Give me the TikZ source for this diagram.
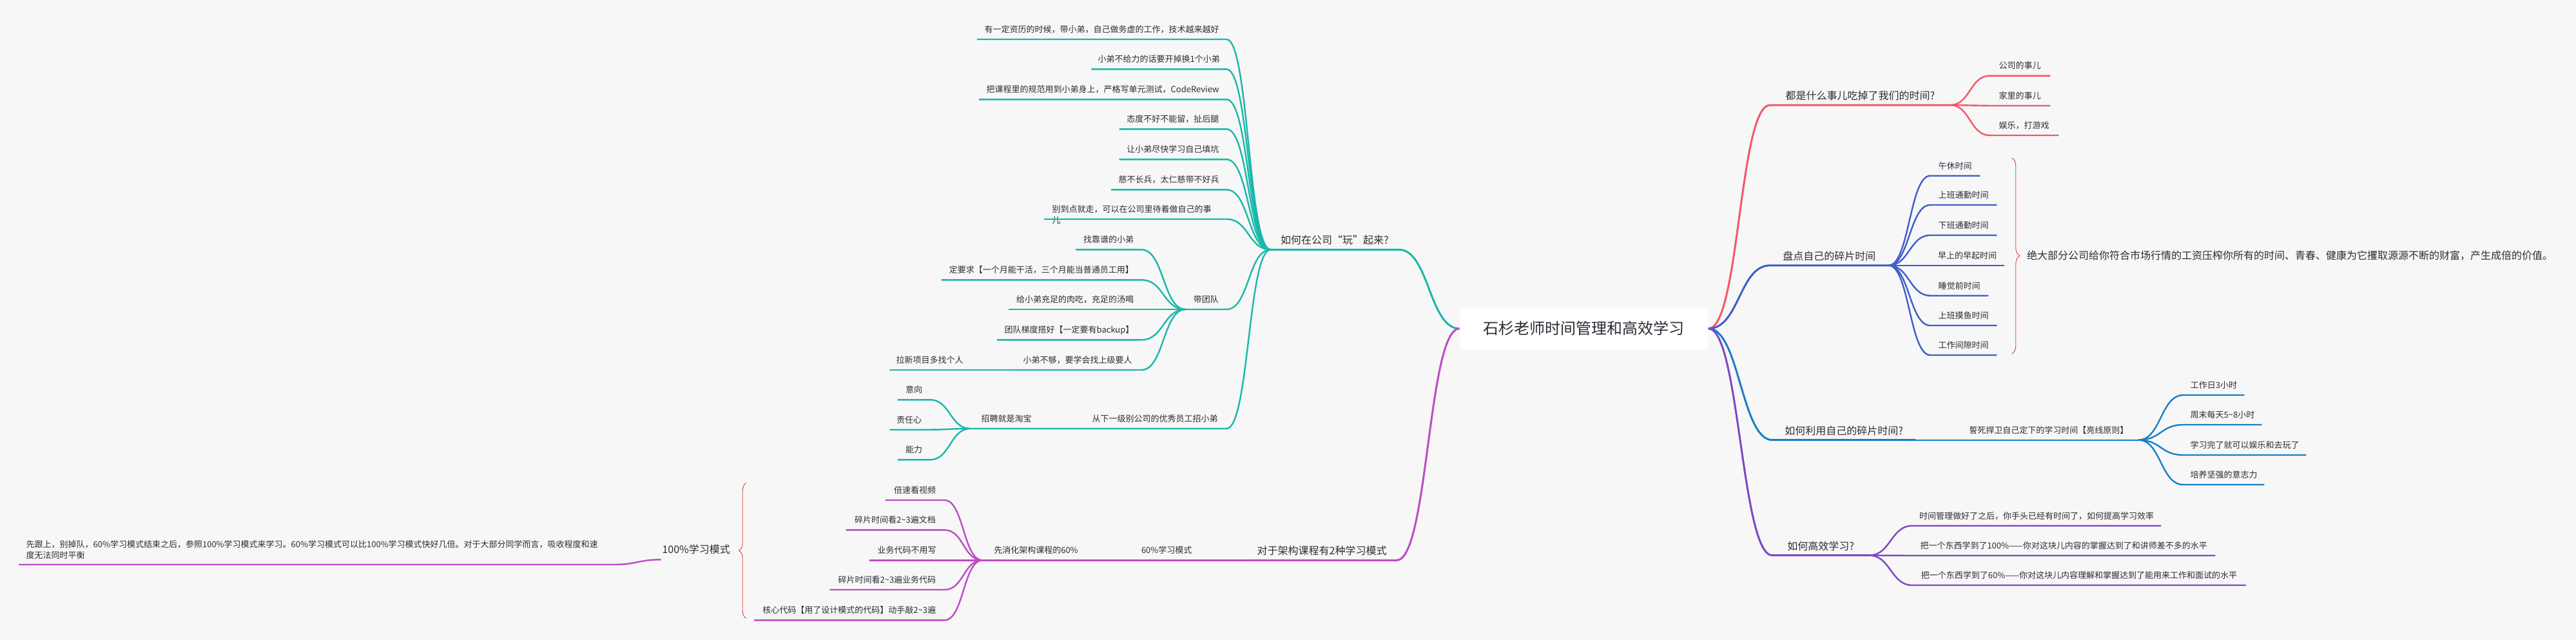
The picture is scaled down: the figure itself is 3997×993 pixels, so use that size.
\documentclass[tikz,border=0pt]{standalone}
\usepackage{fontspec}
\setmainfont{Noto Sans CJK SC}
\usetikzlibrary{decorations.pathreplacing}

\definecolor{bg}{RGB}{247,247,247}
\definecolor{ink}{RGB}{44,44,52}
\definecolor{cteal}{RGB}{26,184,171}
\definecolor{cmag}{RGB}{188,76,198}
\definecolor{cred}{RGB}{245,87,104}
\definecolor{croyal}{RGB}{62,94,200}
\definecolor{cblue}{RGB}{24,128,198}
\definecolor{cpurp}{RGB}{124,72,196}
\definecolor{cbrace}{RGB}{222,58,58}

\newcommand\fsml{\fontsize{13}{17.5}\selectfont}
\newcommand\fmid{\fontsize{16}{20}\selectfont}
\newcommand\fbig{\fontsize{24}{28}\selectfont}

\begin{document}
\begin{tikzpicture}[x=1pt, y=-1pt,
   tp/.style={anchor=south west, font=\fsml, text=ink, inner xsep=0pt, inner ysep=10.5pt, text depth=0pt, minimum width=#1},
   tpm/.style={tp=#1, font=\fmid, inner ysep=8.5pt},
   cv/.style={out=0, in=180, distance=#1},
   cv/.default=33pt,
   ln/.style={draw=#1, line width=2.4pt},
   ln1/.style={draw=#1, line width=3pt},
   brc/.style={decorate, decoration={brace, amplitude=#1}, draw=cbrace, line width=0.9pt}]
      \fill[bg] (0,0) rectangle (3997,993);
      \useasboundingbox (0,0) rectangle (3997,993);

      \node[fill=white, rounded corners=7pt, minimum width=386pt, minimum height=66pt, inner sep=0pt, font=\fbig, text=ink] (root) at (2457.7,509.8) {石杉老师时间管理和高效学习};

      \node[tpm=279.5] (eat) at (2746.5,163) {都是什么事儿吃掉了我们的时间?};
      \node[tp=94] (eat1) at (3087,117.6) {公司的事儿};
      \node[tp=94] (eat2) at (3087,164) {家里的事儿};
      \node[tp=107] (eat3) at (3087,210) {娱乐，打游戏};
      \draw[ln1=cred] (root.east) to[cv=48pt] (eat.south west) -- (eat.south east);
      \foreach \n in {eat1,eat2,eat3}
         \draw[ln=cred] (eat.south east) to[cv=30pt] (\n.south west) -- (\n.south east);

      \node[tpm=183.5] (frag) at (2746.5,411.8) {盘点自己的碎片时间};
      \node[tp=77] (f1) at (2995,272.7) {午休时间};
      \node[tp=103] (f2) at (2995,318) {上班通勤时间};
      \node[tp=103] (f3) at (2995,365) {下班通勤时间};
      \node[tp=115] (f4) at (2995,411.8) {早上的早起时间};
      \node[tp=90] (f5) at (2995,458.7) {睡觉前时间};
      \node[tp=103] (f6) at (2995,505) {上班摸鱼时间};
      \node[tp=103] (f7) at (2995,551) {工作间隙时间};
      \draw[ln1=croyal] (root.east) to[cv=48pt] (frag.south west) -- (frag.south east);
      \foreach \n in {f1,f2,f3,f4,f5,f6,f7}
         \draw[ln=croyal] (frag.south east) to[cv=32pt] (\n.south west) -- (\n.south east);
      \coordinate (fb1) at (3121.5,245);
      \coordinate (fb2) at (3121.5,549);
      \draw[brc=12.5pt] (fb1) -- (fb2);
      \node[anchor=base west, font=\fmid, text=ink, inner sep=0pt] (fnote) at (3145,402.6) {绝大部分公司给你符合市场行情的工资压榨你所有的时间、青春、健康为它攫取源源不断的财富，产生成倍的价值。};

      \node[tpm=222] (use) at (2750,682.7) {如何利用自己的碎片时间?};
      \node[tp=277.5] (vow) at (3040,682.7) {誓死捍卫自己定下的学习时间【亮线原则】};
      \node[tp=94.4] (v1) at (3387.6,613) {工作日3小时};
      \node[tp=121.4] (v2) at (3387.6,659) {周末每天5\textasciitilde8小时};
      \node[tp=190.4] (v3) at (3387.6,706) {学习完了就可以娱乐和去玩了};
      \node[tp=125.4] (v4) at (3387.6,752) {培养坚强的意志力};
      \draw[ln1=cblue] (root.east) to[cv=48pt] (use.south west) -- (use.south east);
      \draw[ln=cblue] (use.south east) -- (vow.south west) -- (vow.south east);
      \foreach \n in {v1,v2,v3,v4}
         \draw[ln=cblue] (vow.south east) to[cv=35pt] (\n.south west) -- (\n.south east);

      \node[tpm=150] (eff) at (2750,861.7) {如何高效学习?};
      \node[tp=385.6] (e1) at (2967,815.7) {时间管理做好了之后，你手头已经有时间了，如何提高学习效率};
      \node[tp=470] (e2) at (2967,862) {把一个东西学到了100\%——你对这块儿内容的掌握达到了和讲师差不多的水平};
      \node[tp=517.5] (e3) at (2967,908) {把一个东西学到了60\%——你对这块儿内容理解和掌握达到了能用来工作和面试的水平};
      \draw[ln1=cpurp] (root.east) to[cv=48pt] (eff.south west) -- (eff.south east);
      \foreach \n in {e1,e2,e3}
         \draw[ln=cpurp] (eff.south east) to[cv=33pt] (\n.south west) -- (\n.south east);

      \node[tpm=198.4] (play) at (1971.6,387.3) {如何在公司“玩”起来?};
      \node[tp=386.6] (p1) at (1516,61) {有一定资历的时候，带小弟，自己做务虚的工作，技术越来越好};
      \node[tp=209.2] (p2) at (1693.4,107.3) {小弟不给力的话要开掉换1个小弟};
      \node[tp=383.6] (p3) at (1519,154.3) {把课程里的规范用到小弟身上，严格写单元测试，CodeReview};
      \node[tp=165.9] (p4) at (1736.7,200.3) {态度不好不能留，扯后腿};
      \node[tp=165.9] (p5) at (1736.7,247.3) {让小弟尽快学习自己填坑};
      \node[tp=178.6] (p6) at (1724,294.3) {慈不长兵，太仁慈带不好兵};
      \node[tp=0, text width=258pt, align=left, inner xsep=12.3pt] (p7) at (1620,340) {别到点就走，可以在公司里待着做自己的事\\儿};
      \draw[ln1=cteal] (play.south west) -- (play.south east) to[cv=47pt] (root.west);
      \foreach \n in {p1,p2,p3,p4,p5,p6,p7}
         \draw[ln=cteal] (\n.south west) -- (\n.south east) to[cv=35pt] (play.south west);

      \node[tp=63.2] (team) at (1839.6,480) {带团队};
      \node[tp=101.7] (t1) at (1669,387.3) {找靠谱的小弟};
      \node[tp=310] (t2) at (1460.7,434.3) {定要求【一个月能干活，三个月能当普通员工用】};
      \node[tp=205.7] (t3) at (1565,480) {给小弟充足的肉吃，充足的汤喝};
      \node[tp=223.7] (t4) at (1547,527.3) {团队梯度搭好【一定要有backup】};
      \node[tp=197.7] (t5) at (1573,574) {小弟不够，要学会找上级要人};
      \node[tp=125] (t5a) at (1380,574) {拉新项目多找个人};
      \draw[ln=cteal] (team.south west) -- (team.south east) to[cv=35pt] (play.south west);
      \foreach \n in {t1,t2,t3,t4,t5}
         \draw[ln=cteal] (\n.south west) -- (\n.south east) to[cv=35pt] (team.south west);
      \draw[ln=cteal] (t5a.south west) -- (t5a.south east) -- (t5.south west);

      \node[tp=221.7] (hire) at (1681,665) {从下一级别公司的优秀员工招小弟};
      \node[tp=112.2] (hunt) at (1505.4,665) {招聘就是淘宝};
      \node[tp=50] (h1) at (1392.9,620.3) {意向};
      \node[tp=60] (h2) at (1380.4,666.7) {责任心};
      \node[tp=50] (h3) at (1392.9,713.3) {能力};
      \draw[ln=cteal] (hunt.south west) -- (hunt.south east) -- (hire.south west) -- (hire.south east) to[cv=35pt] (play.south west);
      \foreach \n in {h1,h2,h3}
         \draw[ln=cteal] (\n.south west) -- (\n.south east) to[cv=31pt] (hunt.south west);

      \node[tpm=231.7] (arch) at (1935,869.3) {对于架构课程有2种学习模式};
      \node[tp=240] (m60) at (1690,869.3) {60\%学习模式};
      \node[tp=165.4] (digest) at (1524.6,869.3) {先消化架构课程的60\%};
      \node[tp=91.3] (d1) at (1373.7,776) {倍速看视频};
      \node[tp=152.4] (d2) at (1312.6,822.3) {碎片时间看2\textasciitilde3遍文档};
      \node[tp=116] (d3) at (1349,869.3) {业务代码不用写};
      \node[tp=177.6] (d4) at (1287.4,915) {碎片时间看2\textasciitilde3遍业务代码};
      \node[tp=295] (d5) at (1170,962.3) {核心代码【用了设计模式的代码】动手敲2\textasciitilde3遍};
      \draw[ln1=cmag] (arch.south west) -- (arch.south east) to[cv=49pt] (root.west);
      \draw[ln=cmag] (digest.south west) -- (digest.south east) -- (m60.south west) -- (m60.south east) -- (arch.south west);
      \foreach \n in {d1,d2,d3,d4,d5}
         \draw[ln=cmag] (\n.south west) -- (\n.south east) to[cv=30pt] (digest.south west);
      \coordinate (db1) at (1158,959.3);
      \coordinate (db2) at (1158,749.3);
      \draw[brc=11.5pt] (db1) -- (db2);
      \node[tpm=108.6, inner ysep=9.5pt] (full) at (1025.7,868.3) {100\%学习模式};
      \node[tp=0, text width=900pt, align=left, inner xsep=11.5pt, text depth=16pt] (keep) at (29,876) {先跟上，别掉队，60\%学习模式结束之后，参照100\%学习模式来学习。60\%学习模式可以比100\%学习模式快好几倍。对于大部分同学而言，吸收程度和速\\度无法同时平衡};
      \draw[ln=cmag] (keep.south west) -- (keep.south east) to[cv=35pt] (full.south west);

   \end{tikzpicture}
\end{document}
